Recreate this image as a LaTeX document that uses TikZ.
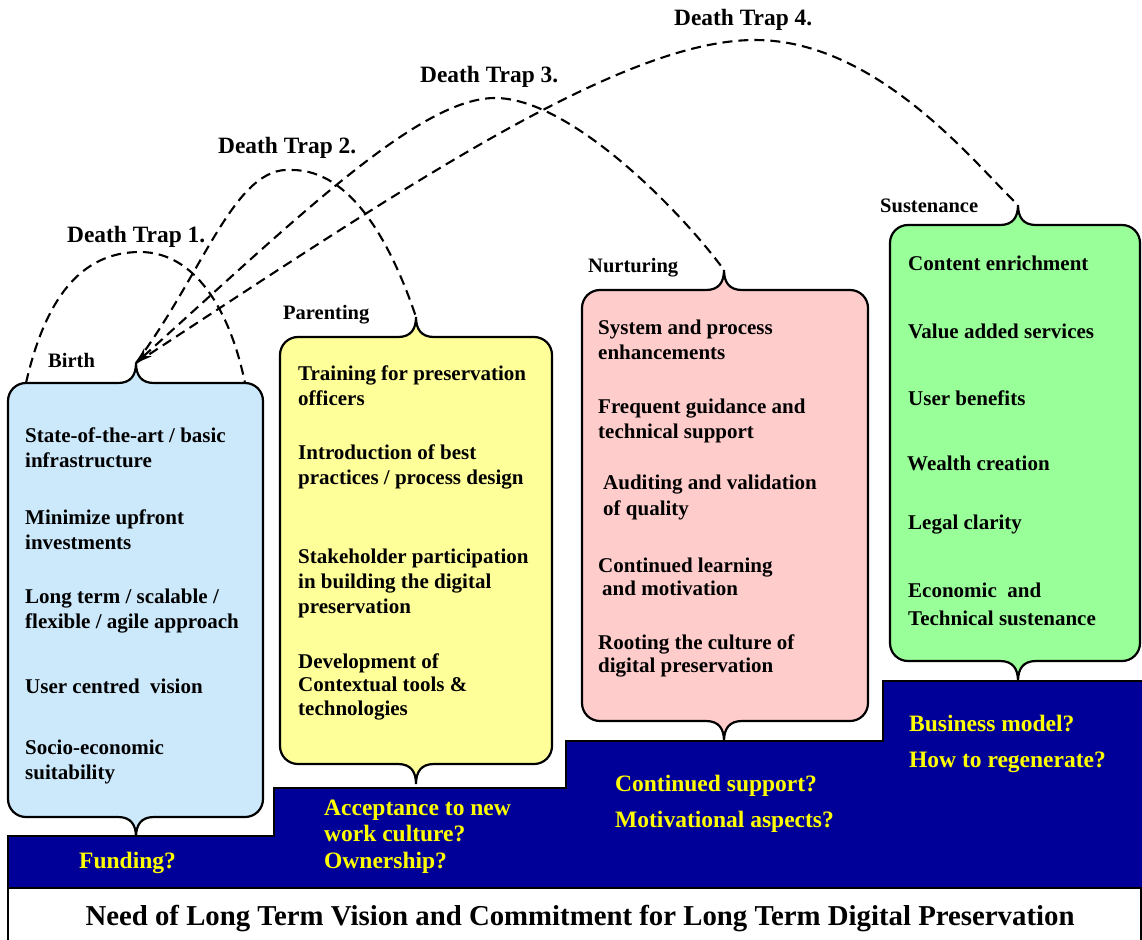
\documentclass[tikz,border=0pt]{standalone}
\usepackage{fontspec}
\setmainfont{Liberation Serif}
\usetikzlibrary{arrows.meta}
\definecolor{navy}{RGB}{0,0,153}
\definecolor{qyellow}{RGB}{255,255,0}
\definecolor{birthfill}{RGB}{204,233,252}
\definecolor{parentfill}{RGB}{255,255,153}
\definecolor{nurturefill}{RGB}{255,204,204}
\definecolor{sustainfill}{RGB}{153,255,153}
% #1 name, #2 fill, #3 L, #4 R, #5 T, #6 B, #7 tip x
\newcommand\bracebox[7]{%
 \def\bxr{18}%
 \draw[boxline, fill=#2] (#7-18,#5) -- (#3+\bxr,#5) coordinate (#1tl)
   .. controls (#3+8,#5) and (#3,#5+8) .. (#3,#5+\bxr) -- (#3,#6-\bxr)
   .. controls (#3,#6-8) and (#3+8,#6) .. (#3+\bxr,#6) -- (#7-18,#6)
   .. controls (#7-5,#6) and (#7,#6+8) .. (#7,#6+20) coordinate (#1bot)
   .. controls (#7,#6+8) and (#7+5,#6) .. (#7+18,#6) -- (#4-\bxr,#6)
   .. controls (#4-8,#6) and (#4,#6-8) .. (#4,#6-\bxr) -- (#4,#5+\bxr)
   .. controls (#4,#5+8) and (#4-8,#5) .. (#4-\bxr,#5) coordinate (#1tr) -- (#7+18,#5)
   .. controls (#7+5,#5) and (#7,#5-8) .. (#7,#5-20) coordinate (#1top)
   .. controls (#7,#5-8) and (#7-5,#5) .. (#7-18,#5) -- cycle;
}
\begin{document}
\begin{tikzpicture}[x=1pt,y=-1pt,
  boxline/.style={draw=black, line width=2.2pt},
  dt/.style={draw=black, line width=2.1pt, dash pattern=on 10pt off 6pt},
  item/.style={anchor=base west, inner sep=0pt, align=left, font=\bfseries\fontsize{21}{25}\selectfont},
  stage/.style={anchor=base west, inner sep=0pt, font=\bfseries\fontsize{20.5}{24}\selectfont},
  trap/.style={anchor=base west, inner sep=0pt, font=\bfseries\fontsize{23.4}{28}\selectfont},
  qtext/.style={anchor=base west, inner sep=0pt, align=left, text=qyellow, font=\bfseries\fontsize{23.5}{26.5}\selectfont},
]
\useasboundingbox (0,0) rectangle (1142,939);
% caption box
\draw[line width=1.5pt, fill=white] (8,888) rectangle (1141,950);
\node[anchor=base, inner sep=0pt, font=\bfseries\fontsize{28.8}{34}\selectfont] (caption) at (580,925)
  {Need of Long Term Vision and Commitment for Long Term Digital Preservation};
% staircase
\draw[fill=navy, line width=1.5pt] (8,836) -- (274,836) -- (274,788) -- (566,788) -- (566,741)
  -- (883,741) -- (883,681) -- (1146,681) -- (1146,888) -- (8,888) -- cycle;
% boxes
\bracebox{birth}{birthfill}{8}{263}{383}{817}{136}
\bracebox{parent}{parentfill}{280}{552}{337}{764}{416}
\bracebox{nurture}{nurturefill}{582}{868}{290}{721}{724}
\bracebox{sustain}{sustainfill}{890}{1140}{225}{661}{1018}
% death traps
\draw[dt] (birthtl) .. controls (45,300) and (80,252) .. (140,252) .. controls (195,252) and (230,310) .. (birthtr);
\draw[dt] (birthtop) .. controls (205,270) and (235,165) .. (292,170) .. controls (350,170) and (390,240) .. (parenttop);
\draw[dt] (birthtop) .. controls (400,190) and (620,40) .. (755,40) .. controls (880,40) and (980,170) .. (sustaintop);
\draw[dt, {Stealth[length=16pt,width=11pt]}-] (birthtop) .. controls (300,215) and (420,98) .. (495,98) .. controls (570,98) and (680,210) .. (nurturetop);
% trap labels
\node[trap] (dt1) at (67,242) {Death Trap 1.};
\node[trap] (dt2) at (218,153) {Death Trap 2.};
\node[trap] (dt3) at (420,83) {Death Trap 3.};
\node[trap] (dt4) at (674,26) {Death Trap 4.};
% stage labels
\node[stage] (lbirth) at (48,367) {Birth};
\node[stage] (lparent) at (283,319) {Parenting};
\node[stage] (lnurture) at (588,272) {Nurturing};
\node[stage] (lsustain) at (880,212) {Sustenance};
% birth items (anchored at the baseline of the last line)
\node[item] (b1) at (25,467) {State-of-the-art / basic\\infrastructure};
\node[item] (b2) at (25,549) {Minimize upfront\\investments};
\node[item] (b3) at (25,628) {Long term / scalable /\\flexible / agile approach};
\node[item] (b4) at (25,693) {User centred\ \ vision};
\node[item] (b5) at (25,779) {Socio-economic\\suitability};
% parenting items
\node[item] (p1) at (298,405) {Training for preservation\\officers};
\node[item] (p2) at (298,484) {Introduction of best\\practices / process design};
\node[item] (p3) at (298,613) {Stakeholder participation\\in building the digital\\preservation};
\node[item, font=\bfseries\fontsize{21}{23.5}\selectfont] (p4) at (298,715) {Development of\\Contextual tools \&\\technologies};
% nurturing items
\node[item] (n1) at (598,359) {System and process\\enhancements};
\node[item] (n2) at (598,438) {Frequent guidance and\\technical support};
\node[item, font=\bfseries\fontsize{21}{26}\selectfont] (n3) at (603,515) {Auditing and validation\\of quality};
\node[item, font=\bfseries\fontsize{21}{23}\selectfont] (n4) at (598,595) {Continued learning\\\hspace*{4pt}and motivation};
\node[item, font=\bfseries\fontsize{21}{23}\selectfont] (n5) at (598,672) {Rooting the culture of\\digital preservation};
% sustenance items
\node[item] (s1) at (908,270) {Content enrichment};
\node[item] (s2) at (908,338) {Value added services};
\node[item] (s3) at (908,405) {User benefits};
\node[item] (s4) at (907,470) {Wealth creation};
\node[item] (s5) at (908,529) {Legal clarity};
\node[item, font=\bfseries\fontsize{21}{28}\selectfont] (s6) at (908,625) {Economic\ \ and\\Technical sustenance};
% questions
\node[qtext] (q1) at (79,868) {Funding?};
\node[qtext] (q2) at (324,868) {Acceptance to new\\work culture?\\Ownership?};
\node[qtext, font=\bfseries\fontsize{23.5}{36}\selectfont] (q3) at (615,827) {Continued support?\\Motivational aspects?};
\node[qtext, font=\bfseries\fontsize{23.5}{36}\selectfont] (q4) at (909,767) {Business model?\\How to regenerate?};
\end{tikzpicture}
\end{document}
